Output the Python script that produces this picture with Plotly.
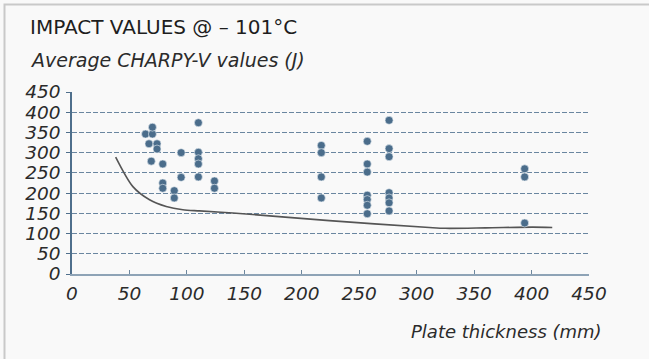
import plotly.graph_objects as go

# ---- data ----
thickness = [64, 70, 70, 67, 74, 74, 69, 79, 79, 79, 89, 89, 95, 95,
             110, 110, 110, 110, 110, 124, 124,
             217, 217, 217, 217,
             257, 257, 257, 257, 257, 257, 257,
             276, 276, 276, 276, 276, 276, 276,
             394, 394, 394]
impact = [346, 346, 363, 322, 322, 309, 279, 272, 225, 212, 206, 188, 300, 239,
          374, 301, 285, 272, 240, 230, 212,
          318, 300, 240, 188,
          328, 272, 252, 195, 184, 170, 149,
          380, 310, 290, 201, 188, 176, 156,
          260, 240, 126]

curve_x = [38, 53, 67.5, 82, 96.5, 111, 140, 224, 311, 325, 360, 401, 418]
curve_y = [289, 216, 183.5, 167, 158.8, 156, 151, 132, 115, 113, 114, 116, 115]

x_ticks = [0, 50, 100, 150, 200, 250, 300, 350, 400, 450]
y_ticks = [0, 50, 100, 150, 200, 250, 300, 350, 400, 450]

title_text = "IMPACT VALUES @ – 101°C"
subtitle_text = "Average CHARPY-V values (J)"
xaxis_text = "Plate thickness (mm)"

# ---- layout geometry ----
W, H = 649, 359
ML, MR, MT, MB = 72, 60, 92, 85
PW, PH = W - ML - MR, H - MT - MB


def px(xp):
    return (xp - ML) / PW


def py(yp):
    return (H - MB - yp) / PH


FONT = "DejaVu Sans"
TXT = "#2b2b2b"
MARK = "#4b6d8b"
GRID = "#6a86a0"

fig = go.Figure()

fig.add_trace(go.Scatter(
    x=curve_x, y=curve_y, mode="lines",
    line=dict(color="#555555", width=1.6, shape="spline", smoothing=0.8),
    hoverinfo="skip", showlegend=False))

fig.add_trace(go.Scatter(
    x=thickness, y=impact, mode="markers",
    marker=dict(color=MARK, size=8, line=dict(color="#e8eef3", width=0.6)),
    showlegend=False))

fig.update_layout(
    width=W, height=H,
    margin=dict(l=ML, r=MR, t=MT, b=MB, pad=0),
    paper_bgcolor="#f9f9f9", plot_bgcolor="#f9f9f9",
    font=dict(family=FONT, color=TXT),
    showlegend=False,
    xaxis=dict(
        range=[0, 450], tickvals=x_ticks,
        ticktext=["<i>%d</i>" % v for v in x_ticks],
        showgrid=False, zeroline=False,
        showline=True, linecolor="#8ea3b6", linewidth=2,
        ticks="inside", ticklen=4, tickwidth=1, tickcolor="#6d879e",
        tickfont=dict(size=18.5, family=FONT, color=TXT),
        ticklabelstandoff=2,
    ),
    xaxis2=dict(
        range=[0, 450], overlaying="x", matches="x", side="bottom",
        tickvals=x_ticks, showticklabels=False, showgrid=False,
        zeroline=False, showline=False,
        ticks="outside", ticklen=4, tickwidth=1, tickcolor="#6d879e",
    ),
    yaxis=dict(
        range=[0, 450], tickvals=y_ticks,
        ticktext=["<i>%d</i>" % v for v in y_ticks],
        showgrid=True, gridcolor=GRID, gridwidth=1, griddash="5px,2px",
        zeroline=False,
        showline=True, linecolor="#4f6f8c", linewidth=1.5,
        ticks="outside", ticklen=4, tickwidth=1, tickcolor="#4f6f8c",
        tickfont=dict(size=18.5, family=FONT, color=TXT),
        ticklabelstandoff=2,
    ),
)

# card border (top & left visible)
fig.add_shape(type="rect", xref="paper", yref="paper",
              x0=px(4.5), y0=py(380), x1=px(700), y1=py(4.5),
              line=dict(color="#c9c9c9", width=2), fillcolor="rgba(0,0,0,0)",
              layer="below")

fig.add_annotation(text=title_text, xref="paper", yref="paper",
                   x=px(28), y=py(27), xanchor="left", yanchor="middle",
                   showarrow=False, font=dict(size=20, family=FONT, color="#1e1e1e"))
fig.add_annotation(text="<i>" + subtitle_text + "</i>", xref="paper", yref="paper",
                   x=px(28), y=py(60), xanchor="left", yanchor="middle",
                   showarrow=False,
                   font=dict(size=19, family=FONT, color=TXT))
fig.add_annotation(text="<i>" + xaxis_text + "</i>", xref="paper", yref="paper",
                   x=px(604), y=py(331), xanchor="right", yanchor="middle",
                   showarrow=False,
                   font=dict(size=18, family=FONT, color=TXT))

fig.write_html("out.html")
